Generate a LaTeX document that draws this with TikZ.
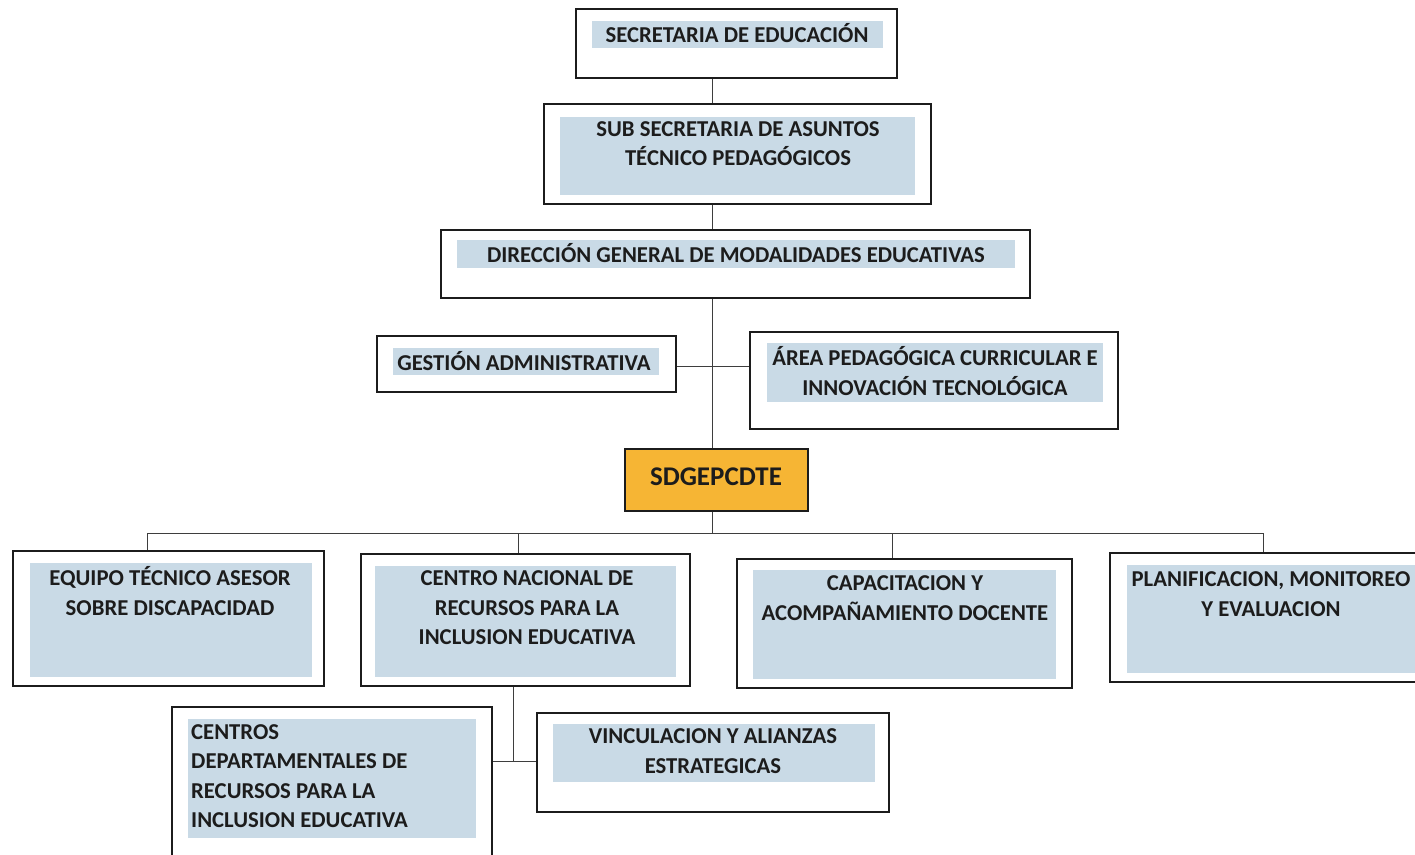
\documentclass[tikz,border=0pt]{standalone}
\usepackage{fontspec}
\setmainfont{Carlito}
\definecolor{boxblue}{RGB}{201,218,230}
\definecolor{sdgorange}{RGB}{246,181,52}
\definecolor{inkcol}{RGB}{28,28,28}
\tikzset{
  outerbox/.style={draw=inkcol, line width=1.6pt, rectangle, inner sep=0pt},
  bluefill/.style={fill=boxblue},
  lbl/.style={inner sep=0pt, align=center, text=inkcol, font=\bfseries\fontsize{22.7}{29.5}\selectfont},
  lblleft/.style={inner sep=0pt, align=left, text=inkcol, font=\bfseries\fontsize{22.7}{29.5}\selectfont},
  conn/.style={draw=inkcol!85, line width=1pt}
}
\begin{document}
\begin{tikzpicture}[x=1pt,y=-1pt]
\useasboundingbox (0,0) rectangle (1415,854);
\clip (0,0) rectangle (1415,854);
\fill[white] (0,0) rectangle (1415,854);

% blue fills
\fill[bluefill] (592,21) rectangle (883,48);
\fill[bluefill] (560,117) rectangle (915,195);
\fill[bluefill] (457,240) rectangle (1015,268);
\fill[bluefill] (393,348) rectangle (659,375);
\fill[bluefill] (767,343) rectangle (1103,402);
\fill[bluefill] (30,563) rectangle (312,677);
\fill[bluefill] (375,566) rectangle (676,677);
\fill[bluefill] (753,570) rectangle (1056,679);
\fill[bluefill] (1127,565) rectangle (1420,673);
\fill[bluefill] (188,719) rectangle (476,838);
\fill[bluefill] (553,724) rectangle (875,782);

% outer boxes
\node[outerbox, minimum width=321pt, minimum height=69pt] (sec) at (736.5,43.5) {};
\node[outerbox, minimum width=387pt, minimum height=100pt] (sub) at (737.5,154) {};
\node[outerbox, minimum width=589pt, minimum height=68pt] (dir) at (735.5,264) {};
\node[outerbox, minimum width=299pt, minimum height=56pt] (ges) at (526.5,364) {};
\node[outerbox, minimum width=368pt, minimum height=97pt] (area) at (934,380.5) {};
\node[outerbox, fill=sdgorange, minimum width=183pt, minimum height=62pt] (sdg) at (716.5,480) {};
\node[outerbox, minimum width=311pt, minimum height=135pt] (equ) at (168.5,618.5) {};
\node[outerbox, minimum width=329pt, minimum height=132pt] (cen) at (525.5,620) {};
\node[outerbox, minimum width=335pt, minimum height=129pt] (cap) at (904.5,623.5) {};
\node[outerbox, minimum width=330pt, minimum height=129pt] (plan) at (1275,617.5) {};
\node[outerbox, minimum width=320pt, minimum height=170pt] (cd) at (332,792) {};
\node[outerbox, minimum width=352pt, minimum height=99pt] (vin) at (713,762.5) {};

% labels
\node[lbl] (tsec) at (737,33) {SECRETARIA DE EDUCACIÓN};
\node[lbl] (tsub) at (738,143.5) {SUB SECRETARIA DE ASUNTOS\\TÉCNICO PEDAGÓGICOS};
\node[lbl] (tdir) at (736,253) {DIRECCIÓN GENERAL DE MODALIDADES EDUCATIVAS};
\node[lbl] (tges) at (524,361) {GESTIÓN ADMINISTRATIVA};
\node[lbl] (tarea) at (935,371) {ÁREA PEDAGÓGICA CURRICULAR E\\INNOVACIÓN TECNOLÓGICA};
\node[inner sep=0pt, text=inkcol, font=\bfseries\fontsize{27}{30}\selectfont] (tsdg) at (716,477) {SDGEPCDTE};
\node[lbl] (tequ) at (170,591) {EQUIPO TÉCNICO ASESOR\\SOBRE DISCAPACIDAD};
\node[lbl] (tcen) at (527,608) {CENTRO NACIONAL DE\\RECURSOS PARA LA\\INCLUSION EDUCATIVA};
\node[lbl] (tcap) at (905,598) {CAPACITACION Y\\ACOMPAÑAMIENTO DOCENTE};
\node[lbl] (tplan) at (1271,594) {PLANIFICACION, MONITOREO\\Y EVALUACION};
\node[lblleft, anchor=west] (tcd) at (191,776) {CENTROS\\DEPARTAMENTALES DE\\RECURSOS PARA LA\\INCLUSION EDUCATIVA};
\node[lbl] (tvin) at (713,751) {VINCULACION Y ALIANZAS\\ESTRATEGICAS};

% connector coordinates
\coordinate (sp) at (712,0);
\coordinate (bus) at (0,533);
\coordinate (d1) at (147,0);
\coordinate (d2) at (518,0);
\coordinate (d3) at (892,0);
\coordinate (d4) at (1263,0);
\coordinate (d5) at (513,0);
\coordinate (hy) at (0,366);
\coordinate (ly) at (0,761);

% connectors
\draw[conn] (sec.south -| sp) -- (sub.north -| sp);
\draw[conn] (sub.south -| sp) -- (dir.north -| sp);
\draw[conn] (dir.south -| sp) -- (sdg.north -| sp);
\draw[conn] (ges.east |- hy) -- (area.west |- hy);
\draw[conn] (sdg.south -| sp) -- (sp |- bus);
\draw[conn] (d1 |- equ.north) -- (d1 |- bus) -- (d4 |- bus) -- (d4 |- plan.north);
\draw[conn] (d2 |- bus) -- (d2 |- cen.north);
\draw[conn] (d3 |- bus) -- (d3 |- cap.north);
\draw[conn] (cen.south -| d5) -- (d5 |- ly);
\draw[conn] (cd.east |- ly) -- (vin.west |- ly);
\end{tikzpicture}
\end{document}
